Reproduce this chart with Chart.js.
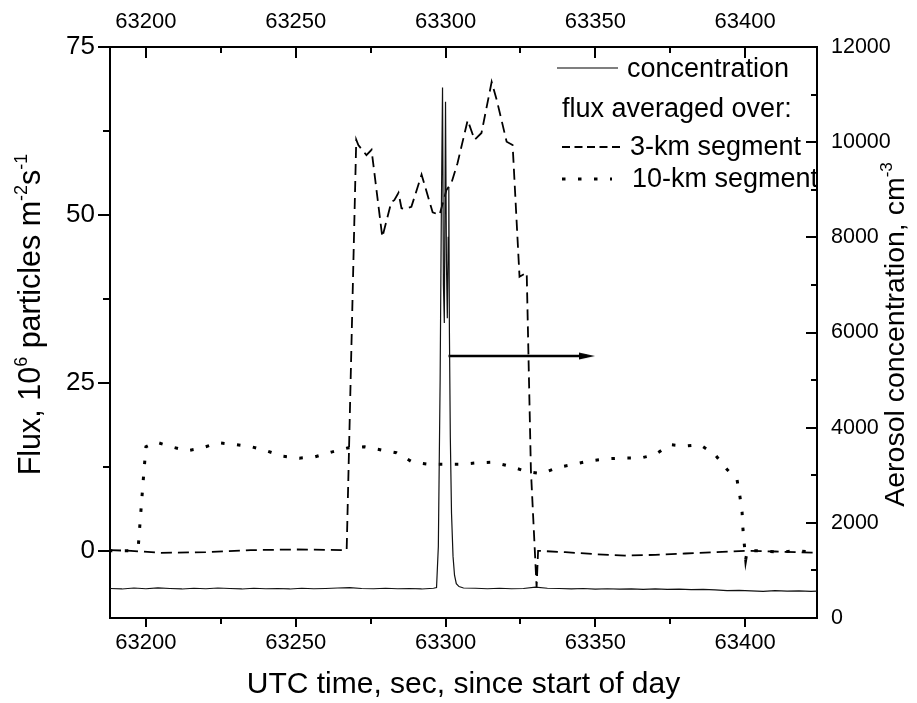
<!DOCTYPE html>
<html><head><meta charset="utf-8">
<script src="https://cdn.jsdelivr.net/npm/chart.js@4.4.0/dist/chart.umd.min.js"></script>
<style>html,body{margin:0;padding:0;background:#fff;}#wrap{width:917px;height:703px;}</style>
</head><body><div id="wrap"><canvas id="c" width="917" height="703"></canvas></div>
<script>
// ---------- data ----------
const concTime = [63188,63192,63196,63200,63204,63208,63212,63216,63220,63224,63228,63232,63236,63240,63244,63248,63252,63256,63260,63264,63268,63272,63276,63280,63284,63288,63292,63296,
  63297,63297.6,63298.2,63298.6,63299.0,63299.3,63299.6,63300.0,63300.3,63300.6,63300.9,63301.1,63301.3,63301.6,63302.0,63302.5,63303.0,63303.6,63304.5,
  63306,63310,63314,63318,63322,63326,63330,63334,63338,63342,63346,63350,63354,63358,63362,63366,63370,63374,63378,63382,63386,63390,63394,63398,63402,63406,63410,63414,63418,63422,63424];
const concValue = [620,610,630,615,635,620,610,625,615,630,620,610,625,615,620,610,625,615,620,630,640,620,615,625,615,620,610,625,
  640,1500,5000,8500,11150,7000,6200,10850,7500,6300,8000,9050,6000,3800,2200,1300,900,720,660,
  630,625,615,625,615,620,650,625,620,610,620,605,615,605,610,600,610,600,605,595,600,590,575,580,570,560,575,565,570,560,565];

const flux3Time = [63188,63195,63205,63220,63235,63250,63267,63270.2,63270.9,63273.6,63275.3,63278.9,63281.9,63282.9,63284.3,63285.3,63286.3,63288.6,63292.0,63295.7,63298.0,63300.3,63302.0,63304.0,63307.4,63309.7,63312.0,63315.4,63317.1,63320.4,63322.4,63324.7,63327.1,63328.5,63330.4,63330.9,63340,63350,63360,63370,63380,63390,63400,63410,63424];
const flux3Value = [0.1,0,-0.3,-0.2,0.1,0.2,0.1,61.2,60.4,58.9,59.7,46.7,51.9,52.2,53.3,51.0,50.9,51.2,56.0,50.4,50.0,53.7,54.8,57.7,64.1,61.2,62.2,69.8,67.1,60.9,60.4,40.8,41.4,12,-5.4,0,-0.2,-0.5,-0.7,-0.6,-0.4,-0.2,0,-0.1,-0.3];

const flux10Time = [63187.6,63194.3,63197.5,63199,63200,63203.3,63208.4,63213.7,63218.7,63224.1,63230.1,63235.1,63240.1,63245.5,63251.2,63256.5,63261.9,63267.2,63272.9,63278.6,63283.6,63289.0,63294.3,63300.0,63305.4,63310.7,63315.7,63321.4,63327.1,63332.1,63337.5,63343.1,63348.2,63353.8,63359.2,63364.9,63369.9,63374.9,63379.9,63385.0,63390.0,63394.0,63397.3,63398.3,63399.0,63399.3,63400.2,63400.7,63406,63411.7,63416.7,63424];
const flux10Value = [0,0,1,10,15.5,16.2,15.5,14.9,15.3,16.1,15.8,15.5,14.9,14.1,13.8,14.0,14.7,15.3,15.5,15.0,14.6,13.2,12.9,12.9,12.9,13.1,13.2,12.6,11.8,11.5,12.4,12.9,13.4,13.7,13.8,13.8,14.3,15.8,15.6,15.8,14.3,12.1,10.6,8,5.7,3.1,-1.3,0,0,-0.2,0,-0.2];

const arrowTime = [63301, 63347.2];
const arrowFlux = [29, 29];

const xTicks = [63200,63250,63300,63350,63400];
const xTickMarks = [63200,63225,63250,63275,63300,63325,63350,63375,63400];
const fluxTicks = [0,25,50,75];
const fluxTickMarks = [0,12.5,25,37.5,50,62.5,75];
const concTicks = [0,2000,4000,6000,8000,10000,12000];
const concTickMarks = [0,1000,2000,3000,4000,5000,6000,7000,8000,9000,10000,11000,12000];

const legendLabels = ['concentration','flux averaged over:','3-km segment','10-km segment'];
const xTitle = 'UTC time, sec, since start of day';

// ---------- chart ----------
const FONT = '"Liberation Sans", Arial, Helvetica, sans-serif';
Chart.defaults.font.family = FONT;
Chart.defaults.color = '#000';

const toXY = (t, v) => t.map((x, i) => ({x: x, y: v[i]}));

const arrowHead = document.createElement('canvas');
arrowHead.width = 16; arrowHead.height = 8;
(function(){const g = arrowHead.getContext('2d'); g.fillStyle='#000'; g.beginPath(); g.moveTo(0,0.5); g.lineTo(16,4); g.lineTo(0,7.5); g.closePath(); g.fill();})();

function fixTicks(arr){ return s => { s.ticks = arr.map(v => ({value: v})); }; }

function drawRich(ctx, parts, cx, cy, size, supSize, rise) {
  ctx.save();
  ctx.translate(cx, cy);
  ctx.rotate(-Math.PI/2);
  let total = 0;
  parts.forEach(p => { ctx.font = (p[1] ? supSize : size) + 'px ' + FONT; p.w = ctx.measureText(p[0]).width; total += p.w; });
  let x = -total/2;
  ctx.textAlign = 'left'; ctx.textBaseline = 'alphabetic'; ctx.fillStyle = '#000';
  parts.forEach(p => { ctx.font = (p[1] ? supSize : size) + 'px ' + FONT; ctx.fillText(p[0], x, p[1] ? -rise : 0); x += p.w; });
  ctx.restore();
}

const decor = {
  id: 'decor',
  afterDraw(chart) {
    const {ctx, chartArea: a, scales} = chart;
    ctx.save();
    ctx.strokeStyle = '#000'; ctx.lineWidth = 2; ctx.lineCap = 'butt';
    const line = (x1,y1,x2,y2) => { ctx.beginPath(); ctx.moveTo(x1,y1); ctx.lineTo(x2,y2); ctx.stroke(); };
    xTickMarks.forEach(v => {
      const major = xTicks.includes(v);
      const px = Math.round(scales.x.getPixelForValue(v));
      line(px, a.bottom, px, a.bottom + (major ? 9 : 6));
      line(px, a.top, px, a.top + (major ? 11 : 6));
    });
    fluxTickMarks.forEach(v => {
      const major = fluxTicks.includes(v);
      const py = Math.round(scales.y.getPixelForValue(v));
      line(a.left - (major ? 12 : 7), py, a.left, py);
    });
    concTickMarks.forEach(v => {
      const major = concTicks.includes(v);
      const py = Math.round(scales.y2.getPixelForValue(v));
      line(a.right - (major ? 11 : 6), py, a.right, py);
    });

    // legend
    ctx.fillStyle = '#000'; ctx.textAlign = 'left'; ctx.textBaseline = 'alphabetic';
    ctx.font = '27px ' + FONT;
    ctx.lineWidth = 1.2; ctx.setLineDash([]);
    line(557, 68, 618, 68);
    ctx.fillText(legendLabels[0], 627, 77);
    ctx.fillText(legendLabels[1], 562, 117);
    ctx.lineWidth = 1.8; ctx.setLineDash([8, 4.5]);
    line(562, 147, 623, 147);
    ctx.fillText(legendLabels[2], 630, 155);
    ctx.lineWidth = 3; ctx.setLineDash([3.5, 12.5]);
    line(562, 179, 612, 179);
    ctx.setLineDash([]);
    ctx.fillText(legendLabels[3], 632, 187);
    ctx.restore();

    // axis titles with superscripts
    drawRich(ctx, [['Flux, 10',0],['6',1],[' particles m',0],['-2',1],['s',0],['-1',1]], 40, (a.top+a.bottom)/2 - 18, 30.5, 18, 13);
    drawRich(ctx, [['Aerosol concentration, cm',0],['-3',1]], 904, (a.top+a.bottom)/2 + 2, 28.5, 17, 12);
  }
};

new Chart(document.getElementById('c'), {
  type: 'line',
  data: {
    datasets: [
      {label: legendLabels[0], data: toXY(concTime, concValue), yAxisID: 'y2', xAxisID: 'x', borderColor: '#111', borderWidth: 1.2, pointRadius: 0, tension: 0},
      {label: legendLabels[2], data: toXY(flux3Time, flux3Value), yAxisID: 'y', xAxisID: 'x', borderColor: '#000', borderWidth: 1.8, borderDash: [11, 6], pointRadius: 0, tension: 0},
      {label: legendLabels[3], data: toXY(flux10Time, flux10Value), yAxisID: 'y', xAxisID: 'x', borderColor: '#000', borderWidth: 3, borderDash: [3.5, 12.5], borderCapStyle: 'butt', pointRadius: 0, tension: 0},
      {label: 'arrow', data: toXY(arrowTime, arrowFlux), yAxisID: 'y', xAxisID: 'x', borderColor: '#000', borderWidth: 2.5, pointRadius: [0, 5], pointHoverRadius: 0, pointStyle: arrowHead, tension: 0}
    ]
  },
  options: {
    responsive: false, animation: false, devicePixelRatio: 1,
    layout: {padding: 0},
    plugins: {legend: {display: false}, tooltip: {enabled: false}},
    scales: {
      x: {type: 'linear', position: 'bottom', min: 63188, max: 63424,
          afterBuildTicks: fixTicks(xTicks), afterFit: s => { s.height = 85; },
          ticks: {font: {size: 22}, padding: 12, autoSkip: false, maxRotation: 0, callback: v => String(v)},
          grid: {drawOnChartArea: false, drawTicks: false},
          border: {display: true, color: '#000', width: 2},
          title: {display: true, text: xTitle, font: {size: 30}, padding: {top: 0, bottom: 0}}},
      x2: {type: 'linear', position: 'top', min: 63188, max: 63424,
          afterBuildTicks: fixTicks(xTicks), afterFit: s => { s.height = 47; },
          ticks: {font: {size: 22}, padding: 12, autoSkip: false, maxRotation: 0, callback: v => String(v)},
          grid: {drawOnChartArea: false, drawTicks: false},
          border: {display: true, color: '#000', width: 2}},
      y: {type: 'linear', position: 'left', min: -10, max: 75,
          afterBuildTicks: fixTicks(fluxTicks), afterFit: s => { s.width = 110; },
          ticks: {font: {size: 26}, padding: 15, autoSkip: false, callback: v => String(v)},
          grid: {drawOnChartArea: false, drawTicks: false},
          border: {display: true, color: '#000', width: 2}},
      y2: {type: 'linear', position: 'right', min: 0, max: 12000,
          afterBuildTicks: fixTicks(concTicks), afterFit: s => { s.width = 100; },
          ticks: {font: {size: 21.5}, padding: 14, autoSkip: false, callback: v => String(v)},
          grid: {drawOnChartArea: false, drawTicks: false},
          border: {display: true, color: '#000', width: 2}}
    }
  },
  plugins: [decor]
});
</script>
</body></html>
